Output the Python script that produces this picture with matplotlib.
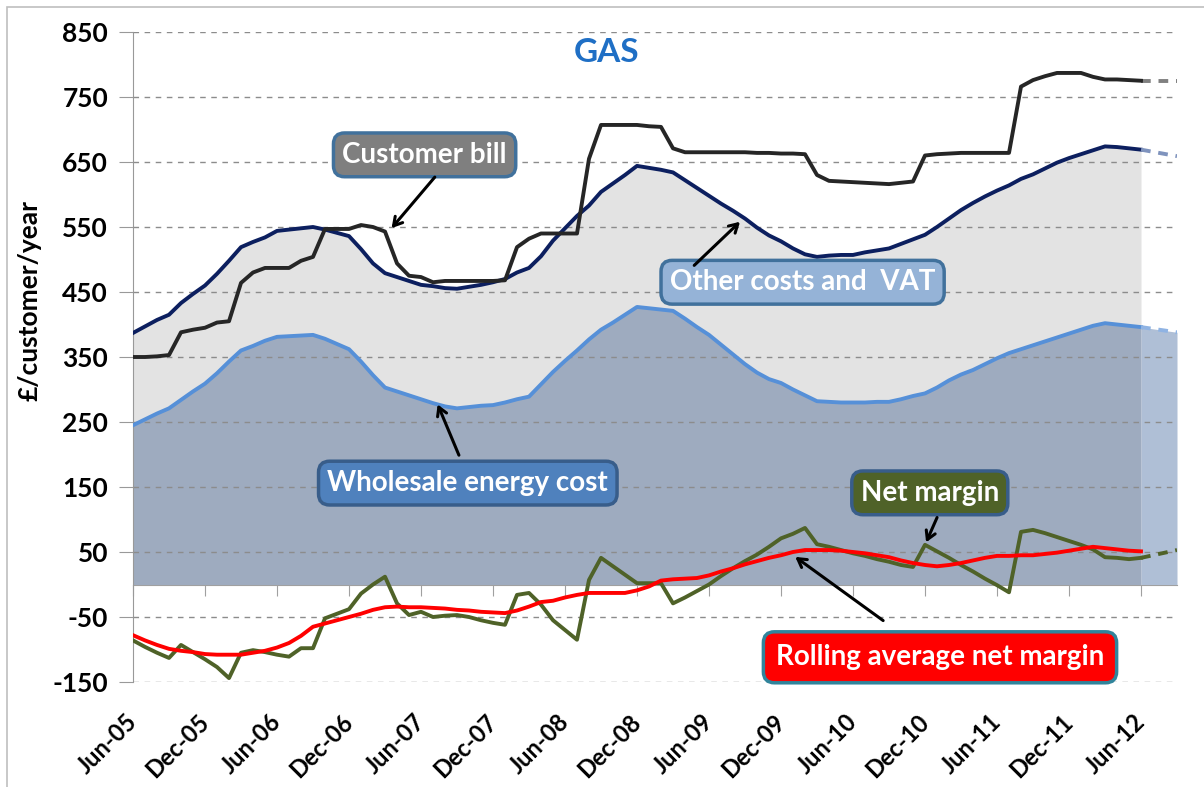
import numpy as np
import pandas as pd
import matplotlib.pyplot as plt
from matplotlib.patches import Rectangle

plt.rcParams['font.family'] = ['Lato', 'DejaVu Sans']
plt.rcParams['font.weight'] = 'bold'
plt.rcParams['axes.unicode_minus'] = False

# monthly data Jun-05 .. Jun-12 (GBP per customer per year)
months = pd.period_range('2005-06', '2012-06', freq='M')

customer_bill = [350, 350, 351, 353, 388, 392, 395, 403, 405, 464,
                 480, 487, 487, 487, 498, 504, 547, 547, 547, 553,
                 550, 543, 494, 475, 473, 465, 467, 467, 467, 467,
                 467, 468, 519, 532, 540, 540, 540, 540, 655, 707,
                 707, 707, 707, 705, 704, 671, 665, 665, 665, 665,
                 665, 665, 664, 664, 663, 663, 662, 630, 621, 620,
                 619, 618, 617, 616, 618, 620, 660, 662, 663, 664,
                 664, 664, 664, 664, 766, 776, 782, 787, 787, 787,
                 781, 777, 777, 776, 775]

other_costs = [387, 397, 407, 415, 433, 447, 460, 478, 498, 519,
               527, 534, 544, 546, 548, 550, 546, 541, 536, 516,
               494, 479, 473, 467, 461, 459, 456, 455, 458, 461,
               465, 470, 480, 487, 505, 529, 548, 567, 583, 604,
               617, 630, 644, 641, 638, 634, 622, 610, 598, 586,
               575, 563, 549, 537, 528, 517, 508, 504, 506, 507,
               507, 511, 514, 517, 524, 531, 538, 550, 563, 576,
               587, 597, 606, 614, 624, 631, 640, 649, 656, 662,
               668, 674, 673, 671, 669]

wholesale = [245, 254, 263, 271, 284, 297, 309, 325, 343, 360,
             367, 375, 381, 382, 383, 384, 378, 370, 362, 343,
             322, 303, 297, 291, 285, 279, 274, 271, 273, 275,
             276, 280, 285, 289, 308, 327, 344, 360, 377, 392,
             403, 415, 427, 425, 423, 421, 409, 396, 384, 369,
             354, 339, 326, 316, 310, 300, 291, 282, 281, 280,
             280, 280, 281, 281, 285, 290, 294, 303, 314, 323,
             330, 339, 348, 356, 362, 368, 374, 380, 386, 392,
             398, 402, 400, 398, 396]

net_margin = [-86, -96, -105, -113, -93, -104, -115, -127, -144, -105,
              -101, -104, -108, -111, -98, -98, -52, -45, -38, -14,
              0, 12, -29, -47, -42, -50, -48, -47, -50, -55,
              -59, -62, -16, -13, -31, -55, -70, -85, 7, 41,
              28, 15, 2, 2, 2, -29, -20, -10, 0, 13,
              25, 36, 46, 58, 71, 78, 87, 62, 58, 53,
              48, 44, 39, 35, 30, 27, 61, 51, 41, 30,
              20, 9, -1, -12, 81, 84, 79, 73, 67, 61,
              54, 42, 41, 39, 41]

rolling_margin = [-78, -86, -93, -99, -102, -104, -107, -108, -108, -108,
                  -105, -102, -97, -90, -79, -65, -60, -55, -50, -45,
                  -39, -35, -34, -35, -35, -36, -37, -39, -40, -42,
                  -43, -44, -40, -34, -27, -25, -20, -16, -13, -13,
                  -13, -13, -9, -3, 6, 8, 9, 10, 14, 20,
                  25, 31, 36, 41, 45, 50, 53, 53, 53, 52,
                  50, 48, 45, 42, 37, 33, 30, 28, 30, 33,
                  37, 41, 44, 44, 45, 45, 47, 49, 52, 55,
                  58, 56, 54, 52, 51]

# projection to Sep-12
proj_months = 3
bill_proj = 775
other_proj = 659
wholesale_proj = 388
margin_proj = 53

x = np.arange(len(months))
xp = np.array([x[-1], x[-1] + proj_months])

fig = plt.figure(figsize=(12.04, 7.87), dpi=100)
ax = fig.add_axes([133/1204, 1-682/787, 1044/1204, 650/787])

# areas
ax.fill_between(x, 0, other_costs, color='#e3e3e3', lw=0, zorder=1)
ax.fill_between(x, 0, wholesale, color='#9eabbf', lw=0, zorder=1.2)
ax.fill_between(xp, 0, [wholesale[-1], wholesale_proj], color='#afbfd6', lw=0, zorder=1.2)

# lines
lw = 2.8
ax.plot(x, other_costs, color='#0c1f5f', lw=lw, zorder=3)
ax.plot(x, wholesale, color='#5690d8', lw=lw, zorder=3)
ax.plot(x, customer_bill, color='#262626', lw=lw, zorder=3.2)
ax.plot(x, net_margin, color='#4f6228', lw=lw, zorder=3.4)
ax.plot(x, rolling_margin, color='#ff0000', lw=lw, zorder=3.6)

ax.plot(xp, [customer_bill[-1], bill_proj], color='#808080', lw=lw, ls=(0, (2.5, 2)), zorder=3)
ax.plot(xp, [other_costs[-1], other_proj], color='#7f93bd', lw=lw, ls=(0, (2.5, 2)), zorder=3)
ax.plot(xp, [wholesale[-1], wholesale_proj], color='#8fb3e3', lw=lw, ls=(0, (2.5, 2)), zorder=3)
ax.plot(xp, [net_margin[-1], margin_proj], color='#4f6228', lw=lw, ls=(0, (2.5, 2)), zorder=3)

# axes
ax.set_xlim(0, x[-1] + proj_months)
ax.set_ylim(-150, 850)
ax.set_yticks(np.arange(-150, 851, 100))
ax.set_axisbelow(False)
ax.yaxis.grid(True, color='#8c8c8c', lw=1, ls=(0, (4, 4)))
for s in ['top', 'right', 'bottom']:
    ax.spines[s].set_visible(False)
ax.spines['left'].set_color('#999999')
ax.tick_params(axis='y', length=10, color='#999999', labelsize=19, pad=8)

ticks = x[::6]
ax.set_xticks(ticks)
ax.set_xticklabels([m.strftime('%b-%y') for m in months[::6]], rotation=45,
                   ha='right', va='center', rotation_mode='anchor', fontsize=17)
ax.tick_params(axis='x', length=0, pad=26)

# zero baseline with its tick marks
sec = ax.secondary_xaxis(0.15)
sec.set_xticks(ticks)
sec.set_xticklabels([])
sec.spines['bottom'].set_color('#a0a0a0')
sec.tick_params(length=8, color='#a0a0a0', direction='out')

fig.text(30/1204, 1-300/787, '£/customer/year', rotation=90, ha='center', va='center',
         fontsize=19, fontweight='bold')

ax.text(39.5, 819, 'GAS', color='#1f6fc5', fontsize=24, fontweight='bold', ha='center', va='center')

def label(txt, pos, face, edge, tail, tip, pad=0.32):
    ax.text(pos[0], pos[1], txt, color='white', fontsize=20, fontweight='bold',
            ha='center', va='center', zorder=6,
            bbox=dict(boxstyle=f'round,pad={pad},rounding_size=0.4', fc=face, ec=edge, lw=2.5))
    ax.annotate('', xy=tip, xytext=tail, zorder=6,
                arrowprops=dict(arrowstyle='->,head_length=0.6,head_width=0.35', color='black', lw=2.2))

label('Customer bill', (24.3, 661), '#7f7f7f', '#41719c', (25.3, 630), (21.4, 545))
label('Other costs and  VAT', (55.8, 465), '#95b3d7', '#41719c', (46.6, 488), (50.75, 561))
label('Wholesale energy cost', (27.9, 156), '#4f81bd', '#385d8a', (27.25, 195), (25.3, 281))
label('Net margin', (66.4, 141), '#4f6228', '#385d8a', (67.1, 107), (66.0, 61))
label('Rolling average net margin', (67.25, -112), '#ff0000', '#31849b', (62.7, -58), (55.0, 45), pad=0.45)

# chart area border
fig.add_artist(Rectangle((7/1204, -0.1), 1.2, 1.1 - 7/787, transform=fig.transFigure,
                         fill=False, ec='#bfbfbf', lw=1.2))

fig.savefig('out.png', dpi=100)
